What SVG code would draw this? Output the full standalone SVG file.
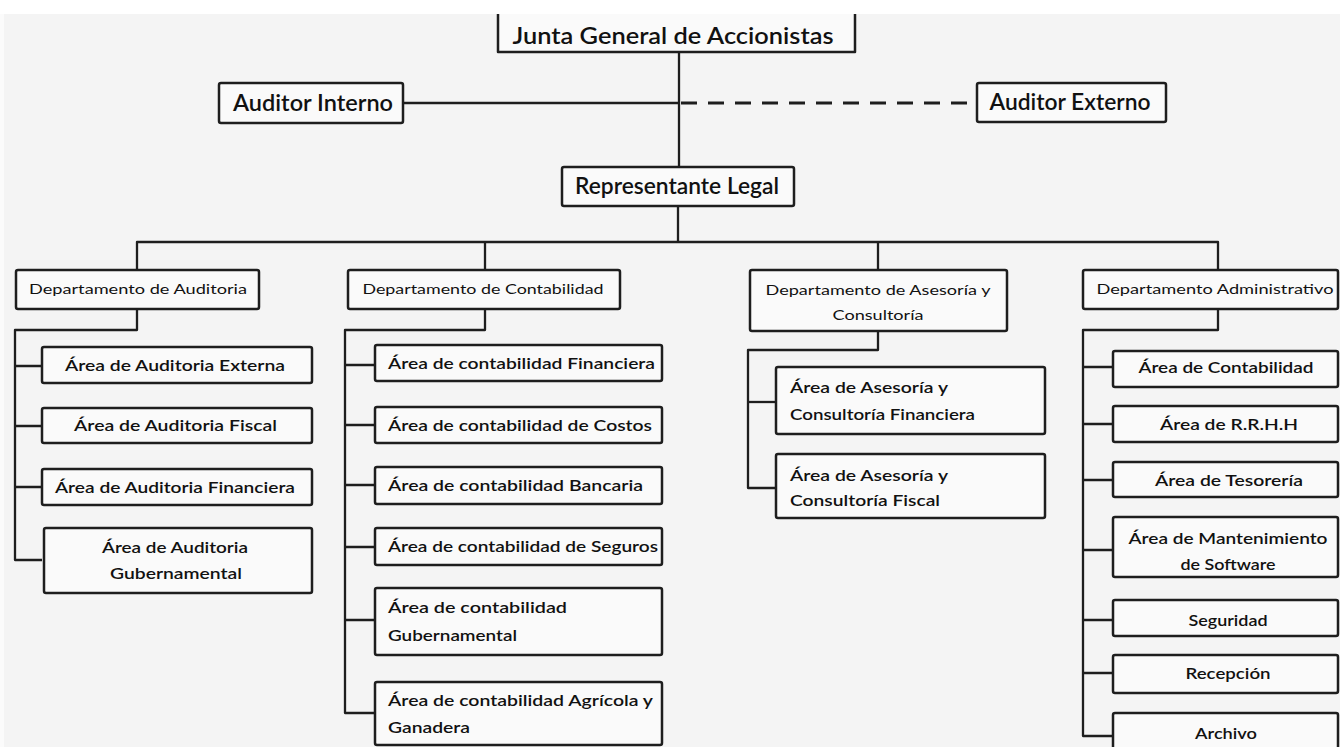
<svg xmlns="http://www.w3.org/2000/svg" width="1340" height="747" viewBox="0 0 1340 747">
<style>
.box{fill:#fafafa;stroke:#1e1e1e;stroke-width:2.5}
.ln{fill:none;stroke:#1e1e1e;stroke-width:2.3;stroke-linejoin:round;stroke-linecap:butt}
.dash{fill:none;stroke:#1e1e1e;stroke-width:3;stroke-dasharray:16 11}
.t1{font-family:Lato,"Open Sans","Liberation Sans",sans-serif;font-size:22px;font-weight:600;fill:#111;text-anchor:middle}
.t2{font-family:Lato,"Open Sans","Liberation Sans",sans-serif;font-size:13px;fill:#111;text-anchor:middle}
.t3{font-family:Lato,"Open Sans","Liberation Sans",sans-serif;font-size:15px;font-weight:600;fill:#111;text-anchor:middle}
.t3l{font-family:Lato,"Open Sans","Liberation Sans",sans-serif;font-size:15px;font-weight:600;fill:#111}
</style>
<rect x="0" y="0" width="1340" height="747" fill="#f4f4f4"/>
<rect x="0" y="0" width="1340" height="14" fill="#ffffff"/>
<rect x="0" y="14" width="4" height="733" fill="#fbfbfb"/>

<g id="connectors">
  <line class="ln" x1="679" y1="52" x2="679" y2="167"/>
  <line class="ln" x1="403" y1="103" x2="679" y2="103"/>
  <line class="dash" x1="681" y1="103" x2="977" y2="103"/>
  <line class="ln" x1="678" y1="206" x2="678" y2="242"/>
  <path class="ln" d="M137,270 V242 H1218 V270"/>
  <line class="ln" x1="485" y1="242" x2="485" y2="270"/>
  <line class="ln" x1="878" y1="242" x2="878" y2="270"/>
  <path class="ln" d="M137,309 V330 H15 V560 H42"/>
  <path class="ln" d="M15,366 H42 M15,426 H42 M15,487 H42"/>
  <path class="ln" d="M485,309 V330 H345 V713 H375"/>
  <path class="ln" d="M345,365 H375 M345,425 H375 M345,485 H375 M345,547 H375 M345,620 H375"/>
  <path class="ln" d="M878,331 V350 H748 V488 H776"/>
  <path class="ln" d="M748,402 H776"/>
  <path class="ln" d="M1218,309 V330 H1083 V736 H1113"/>
  <path class="ln" d="M1083,367 H1113 M1083,424 H1113 M1083,480 H1113 M1083,550 H1113 M1083,620 H1113 M1083,673 H1113"/>
</g>

<g id="junta">
  <rect x="498" y="14" width="357" height="38" fill="#fafafa"/>
  <path class="ln" d="M498,14 V52 H855 V14" style="stroke-width:2.5"/>
  <text class="t1" x="673" y="44" textLength="321" lengthAdjust="spacingAndGlyphs">Junta General de Accionistas</text>
</g>
<g id="auditor-interno">
  <rect class="box" x="219" y="83" width="184" height="40" rx="2"/>
  <text class="t1" x="313" y="111" font-size="21" textLength="160" lengthAdjust="spacingAndGlyphs">Auditor Interno</text>
</g>
<g id="auditor-externo">
  <rect class="box" x="977" y="83" width="189" height="39" rx="2"/>
  <text class="t1" x="1070" y="110" font-size="21" textLength="161" lengthAdjust="spacingAndGlyphs">Auditor Externo</text>
</g>
<g id="representante">
  <rect class="box" x="562" y="167" width="232" height="39" rx="2"/>
  <text class="t1" x="677" y="194" textLength="204" lengthAdjust="spacingAndGlyphs">Representante Legal</text>
</g>

<g id="dep-auditoria">
  <rect class="box" x="16" y="270" width="243" height="39" rx="2"/>
  <text class="t2" x="138" y="293.5" textLength="218" lengthAdjust="spacingAndGlyphs">Departamento de Auditoria</text>
</g>
<g id="dep-contabilidad">
  <rect class="box" x="348" y="270" width="272" height="39" rx="2"/>
  <text class="t2" x="483" y="293.5" textLength="241" lengthAdjust="spacingAndGlyphs">Departamento de Contabilidad</text>
</g>
<g id="dep-asesoria">
  <rect class="box" x="750" y="270" width="257" height="61" rx="2"/>
  <text class="t2" x="878" y="294.5" textLength="225" lengthAdjust="spacingAndGlyphs">Departamento de Asesoría y</text>
  <text class="t2" x="878" y="319.5" textLength="91" lengthAdjust="spacingAndGlyphs">Consultoría</text>
</g>
<g id="dep-administrativo">
  <rect class="box" x="1083" y="270" width="255" height="39" rx="2"/>
  <text class="t2" x="1215" y="293.5" textLength="237" lengthAdjust="spacingAndGlyphs">Departamento Administrativo</text>
</g>

<g id="aud-externa">
  <rect class="box" x="42" y="347" width="270" height="36" rx="2"/>
  <text class="t3" x="175" y="370.5" textLength="220" lengthAdjust="spacingAndGlyphs">Área de Auditoria Externa</text>
</g>
<g id="aud-fiscal">
  <rect class="box" x="42" y="408" width="270" height="35" rx="2"/>
  <text class="t3" x="175.5" y="431" textLength="203" lengthAdjust="spacingAndGlyphs">Área de Auditoria Fiscal</text>
</g>
<g id="aud-financiera">
  <rect class="box" x="42" y="469" width="270" height="36" rx="2"/>
  <text class="t3" x="175" y="492.5" textLength="240" lengthAdjust="spacingAndGlyphs">Área de Auditoria Financiera</text>
</g>
<g id="aud-gubernamental">
  <rect class="box" x="44" y="528" width="268" height="65" rx="2"/>
  <text class="t3" x="175" y="552.5" textLength="146" lengthAdjust="spacingAndGlyphs">Área de Auditoria</text>
  <text class="t3" x="176" y="578.5" textLength="132" lengthAdjust="spacingAndGlyphs">Gubernamental</text>
</g>

<g id="cont-financiera">
  <rect class="box" x="375" y="345" width="287" height="36" rx="2"/>
  <text class="t3l" x="388" y="368.5" textLength="267" lengthAdjust="spacingAndGlyphs">Área de contabilidad Financiera</text>
</g>
<g id="cont-costos">
  <rect class="box" x="375" y="407" width="287" height="36" rx="2"/>
  <text class="t3l" x="388" y="430.5" textLength="264" lengthAdjust="spacingAndGlyphs">Área de contabilidad de Costos</text>
</g>
<g id="cont-bancaria">
  <rect class="box" x="375" y="467" width="287" height="37" rx="2"/>
  <text class="t3l" x="388" y="491" textLength="255" lengthAdjust="spacingAndGlyphs">Área de contabilidad Bancaria</text>
</g>
<g id="cont-seguros">
  <rect class="box" x="375" y="528" width="287" height="37" rx="2"/>
  <text class="t3l" x="388" y="552" textLength="270" lengthAdjust="spacingAndGlyphs">Área de contabilidad de Seguros</text>
</g>
<g id="cont-gubernamental">
  <rect class="box" x="375" y="588" width="287" height="67" rx="2"/>
  <text class="t3l" x="388" y="612.5" textLength="179" lengthAdjust="spacingAndGlyphs">Área de contabilidad</text>
  <text class="t3l" x="388" y="640.5" textLength="129" lengthAdjust="spacingAndGlyphs">Gubernamental</text>
</g>
<g id="cont-agricola">
  <rect class="box" x="375" y="682" width="287" height="63" rx="2"/>
  <text class="t3l" x="388" y="705.5" textLength="265" lengthAdjust="spacingAndGlyphs">Área de contabilidad Agrícola y</text>
  <text class="t3l" x="388" y="732.5" textLength="82" lengthAdjust="spacingAndGlyphs">Ganadera</text>
</g>

<g id="ase-financiera">
  <rect class="box" x="776" y="367" width="269" height="67" rx="2"/>
  <text class="t3l" x="790" y="392.5" textLength="158" lengthAdjust="spacingAndGlyphs">Área de Asesoría y</text>
  <text class="t3l" x="790" y="419.5" textLength="185" lengthAdjust="spacingAndGlyphs">Consultoría Financiera</text>
</g>
<g id="ase-fiscal">
  <rect class="box" x="776" y="454" width="269" height="64" rx="2"/>
  <text class="t3l" x="790" y="480.5" textLength="158" lengthAdjust="spacingAndGlyphs">Área de Asesoría y</text>
  <text class="t3l" x="790" y="505.5" textLength="150" lengthAdjust="spacingAndGlyphs">Consultoría Fiscal</text>
</g>

<g id="adm-contabilidad">
  <rect class="box" x="1113" y="351" width="225" height="36" rx="2"/>
  <text class="t3" x="1226" y="372.5" textLength="175" lengthAdjust="spacingAndGlyphs">Área de Contabilidad</text>
</g>
<g id="adm-rrhh">
  <rect class="box" x="1113" y="406" width="225" height="36" rx="2"/>
  <text class="t3" x="1229" y="429.5" textLength="138" lengthAdjust="spacingAndGlyphs">Área de R.R.H.H</text>
</g>
<g id="adm-tesoreria">
  <rect class="box" x="1113" y="462" width="225" height="35" rx="2"/>
  <text class="t3" x="1229" y="485.5" textLength="148" lengthAdjust="spacingAndGlyphs">Área de Tesorería</text>
</g>
<g id="adm-mantenimiento">
  <rect class="box" x="1113" y="517" width="225" height="60" rx="2"/>
  <text class="t3" x="1228" y="543.5" textLength="199" lengthAdjust="spacingAndGlyphs">Área de Mantenimiento</text>
  <text class="t3" x="1228" y="569.5" textLength="95" lengthAdjust="spacingAndGlyphs">de Software</text>
</g>
<g id="adm-seguridad">
  <rect class="box" x="1113" y="600" width="225" height="36" rx="2"/>
  <text class="t3" x="1228" y="625.5" textLength="79" lengthAdjust="spacingAndGlyphs">Seguridad</text>
</g>
<g id="adm-recepcion">
  <rect class="box" x="1113" y="655" width="225" height="38" rx="2"/>
  <text class="t3" x="1228" y="678.5" textLength="85" lengthAdjust="spacingAndGlyphs">Recepción</text>
</g>
<g id="adm-archivo">
  <rect class="box" x="1113" y="713" width="225" height="48" rx="2"/>
  <text class="t3" x="1226" y="738.5" textLength="62" lengthAdjust="spacingAndGlyphs">Archivo</text>
</g>
</svg>
